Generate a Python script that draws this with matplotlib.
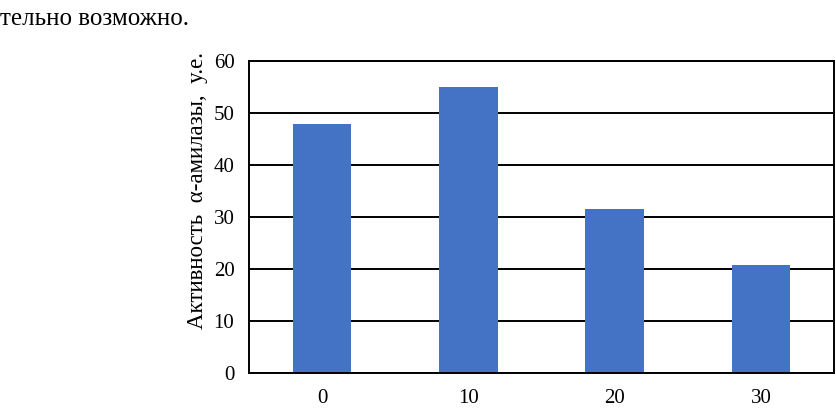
import matplotlib.pyplot as plt

# data
categories = ["0", "10", "20", "30"]
activity = [47.8, 55.0, 31.5, 20.8]
y_ticks = [0, 10, 20, 30, 40, 50, 60]

plt.rcParams['font.family'] = ['Liberation Serif', 'DejaVu Serif']

fig = plt.figure(figsize=(8.36, 4.09), dpi=100)
ax = fig.add_axes([249 / 836, 36 / 409, 585 / 836, 312 / 409])

x = range(len(categories))
ax.bar(x, activity, width=0.4, color='#4472C4', zorder=3)

ax.set_xlim(-0.5, len(categories) - 0.5)
ax.set_ylim(0, 60)
ax.set_yticks(y_ticks)
ax.set_xticks(list(x))
ax.set_xticklabels(categories)
ax.yaxis.grid(True, color='black', linewidth=1.4, zorder=1)
ax.tick_params(length=0, labelsize=15)
ax.tick_params(axis='y', pad=10.5)
ax.tick_params(axis='x', pad=11.5)
for s in ax.spines.values():
    s.set_color('black')
    s.set_linewidth(1.4)
    s.set_zorder(4)

ax.set_ylabel("Активность  α-амилазы,  у.е.", fontsize=16.5)
ax.yaxis.set_label_coords(-0.07, 0.585)

# fragment of the surrounding document text
fig.text(0.0, 1 - 25 / 409, "тельно возможно.", fontsize=18, ha='left', va='baseline')

fig.savefig("out.png", dpi=100)
